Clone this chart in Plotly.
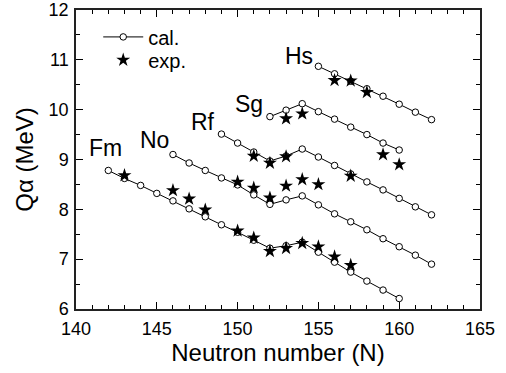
import plotly.graph_objects as go

elements = ["Fm", "No", "Rf", "Sg", "Hs"]

fm_n_cal = list(range(142, 161))
fm_q_cal = [8.78, 8.62, 8.48, 8.32, 8.17, 8.01, 7.85, 7.69, 7.54, 7.38, 7.22,
            7.27, 7.34, 7.14, 6.94, 6.74, 6.56, 6.38, 6.21]
fm_n_exp = [143, 146, 147, 148, 150, 151, 152, 153, 154, 155, 156, 157]
fm_q_exp = [8.68, 8.38, 8.21, 7.99, 7.57, 7.43, 7.16, 7.22, 7.32, 7.25, 7.05, 6.88]

no_n_cal = list(range(146, 163))
no_q_cal = [9.10, 8.93, 8.78, 8.63, 8.49, 8.29, 8.10, 8.19, 8.27, 8.09, 7.91,
            7.75, 7.59, 7.41, 7.25, 7.08, 6.90]
no_n_exp = [150, 151, 152, 153, 154, 155]
no_q_exp = [8.55, 8.43, 8.23, 8.47, 8.60, 8.50]

rf_n_cal = list(range(149, 163))
rf_q_cal = [9.51, 9.33, 9.15, 8.97, 9.07, 9.21, 9.05, 8.88, 8.71, 8.55, 8.39,
            8.22, 8.05, 7.89]
rf_n_exp = [151, 152, 153, 157]
rf_q_exp = [9.07, 8.93, 9.06, 8.67]

sg_n_cal = list(range(152, 161))
sg_q_cal = [9.86, 9.99, 10.12, 9.96, 9.81, 9.65, 9.50, 9.33, 9.19]
sg_n_exp = [153, 154, 159, 160]
sg_q_exp = [9.82, 9.92, 9.10, 8.90]

hs_n_cal = list(range(155, 163))
hs_q_cal = [10.87, 10.72, 10.57, 10.42, 10.27, 10.11, 9.95, 9.80]
hs_n_exp = [156, 157, 158]
hs_q_exp = [10.59, 10.58, 10.35]

x_ticks = [140, 145, 150, 155, 160, 165]
y_ticks = [6, 7, 8, 9, 10, 11, 12]

cal_sets = [(fm_n_cal, fm_q_cal), (no_n_cal, no_q_cal), (rf_n_cal, rf_q_cal),
            (sg_n_cal, sg_q_cal), (hs_n_cal, hs_q_cal)]
exp_sets = [(fm_n_exp, fm_q_exp), (no_n_exp, no_q_exp), (rf_n_exp, rf_q_exp),
            (sg_n_exp, sg_q_exp), (hs_n_exp, hs_q_exp)]

FONT = "Liberation Sans, Arial, sans-serif"
fig = go.Figure()

for i, (n, q) in enumerate(cal_sets):
    fig.add_trace(go.Scatter(
        x=n, y=q, mode="lines+markers", name="cal.",
        showlegend=(i == 0), legendgroup="cal", legend="legend",
        line=dict(color="black", width=1),
        marker=dict(symbol="circle", size=6.5, color="white",
                    line=dict(color="black", width=1)),
    ))

for i, (n, q) in enumerate(exp_sets):
    fig.add_trace(go.Scatter(
        x=n, y=q, mode="markers", name="exp.",
        showlegend=(i == 0), legendgroup="exp", legend="legend2",
        marker=dict(symbol="star", size=10.5, color="black",
                    line=dict(color="black", width=0)),
    ))

label_pos = [(141.81, 9.23), (144.84, 9.39), (147.87, 9.76), (150.70, 10.12), (153.78, 11.07)]
for name, (lx, ly) in zip(elements, label_pos):
    fig.add_annotation(x=lx, y=ly, text=name, showarrow=False,
                       xanchor="center", yanchor="middle",
                       font=dict(family=FONT, size=23, color="black"))

axis_common = dict(
    showline=True, linecolor="#222", linewidth=1.5, mirror="allticks",
    ticks="inside", ticklen=7, tickwidth=1, tickcolor="black",
    showgrid=False, zeroline=False, automargin=False,
    tickfont=dict(family=FONT, size=18, color="black"),
)

fig.update_xaxes(
    range=[140, 165], tickvals=x_ticks, ticktext=[str(v) for v in x_ticks],
    minor=dict(dtick=1, ticks="inside", ticklen=4, tickcolor="black", showgrid=False),
    title=dict(text="Neutron number (N)", font=dict(family=FONT, size=24, color="black"),
               standoff=6),
    ticklabelstandoff=3,
    **axis_common,
)
fig.update_yaxes(
    range=[6, 12], tickvals=y_ticks, ticktext=[str(v) for v in y_ticks],
    minor=dict(dtick=0.5, ticks="inside", ticklen=4, tickcolor="black", showgrid=False),
    title=dict(text="Qα (MeV)", font=dict(family=FONT, size=24, color="black"),
               standoff=8),
    ticklabelstandoff=2,
    **axis_common,
)

legend_common = dict(xanchor="left", yanchor="middle", bgcolor="rgba(0,0,0,0)",
                     font=dict(family=FONT, size=20, color="black"), itemwidth=40)

fig.update_layout(
    width=506, height=373,
    margin=dict(l=76, r=26, t=10, b=64, autoexpand=False),
    paper_bgcolor="white", plot_bgcolor="white",
    legend=dict(x=0.055, y=0.91, **legend_common),
    legend2=dict(x=0.055, y=0.833, **legend_common),
)

fig.write_html("out.html", config={"displayModeBar": False},
               post_script="document.body.style.margin='0px';")
